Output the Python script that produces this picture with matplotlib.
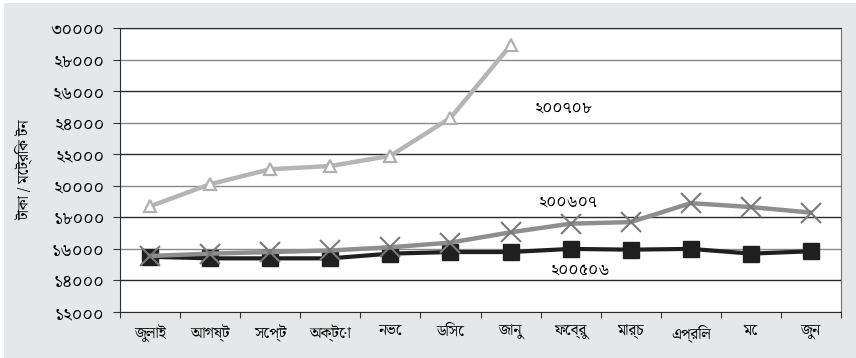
import matplotlib
matplotlib.use("Agg")
import matplotlib.pyplot as plt

# monthly price, taka per metric ton
months = ["জুলাই", "আগষ্ট", "সেপ্ট", "অক্টো", "নভে", "ডিসে",
          "জানু", "ফেব্রু", "মার্চ", "এপ্রিল", "মে", "জুন"]
price_0708 = [18700, 20100, 21050, 21250, 21900, 24300, 28900]
price_0607 = [15550, 15700, 15800, 15900, 16100, 16400, 17050,
              17600, 17700, 18900, 18650, 18300]
price_0506 = [15500, 15400, 15400, 15400, 15700, 15800, 15800,
              16000, 15950, 16000, 15700, 15850]
yticks = list(range(12000, 30001, 2000))
bn_digits = str.maketrans("0123456789", "০১২৩৪৫৬৭৮৯")

plt.rcParams["font.family"] = ["Noto Serif Bengali", "DejaVu Sans"]

fig = plt.figure(figsize=(8.56, 3.58), dpi=100, facecolor="white")
bg = fig.add_axes([4 / 856, 0, 852 / 856, 355 / 358], zorder=0)
bg.set_axis_off()
bg.add_patch(plt.Rectangle((0, 0), 1, 1, transform=bg.transAxes,
                           facecolor="#e6e7e8", edgecolor="none"))
ax = fig.add_axes([120 / 856, 46 / 358, 721 / 856, 284 / 358], zorder=1)
ax.set_facecolor("white")

x = list(range(len(months)))
ax.plot(x[:len(price_0708)], price_0708, color="#b5b5b5", lw=3.2,
        marker="^", ms=9, mfc="white", mec="#b0b0b0", mew=1.6, zorder=3)
ax.plot(x, price_0607, color="#8e8e8e", lw=3.2, marker="x", ms=15,
        mec="#7a7a7a", mew=1.5, zorder=4)
ax.plot(x, price_0506, color="#1f1f1f", lw=3.0, marker="s", ms=12,
        mfc="#1f1f1f", mec="#1f1f1f", zorder=3)

# grid lines alternate dark / grey
for i, v in enumerate(yticks):
    ax.axhline(v, color="#2b2b2b" if i % 2 else "#8a8a8a", lw=1.0, zorder=1)

ax.set_xlim(-0.5, len(months) - 0.5)
ax.set_ylim(12000, 30000)
ax.set_yticks(yticks)
ax.set_yticklabels([str(v).translate(bn_digits) for v in yticks], fontsize=12.5)
ax.set_xticks([i - 0.5 for i in range(len(months) + 1)])
ax.set_xticklabels([])
ax.set_xticks(x, minor=True)
ax.set_xticklabels(months, minor=True, fontsize=11)
ax.tick_params(axis="x", which="minor", length=0, pad=9)
ax.tick_params(axis="x", which="major", length=4, color="#333333")
ax.tick_params(axis="y", length=5, color="#333333", pad=6)

for s in ["left", "bottom", "top"]:
    ax.spines[s].set_color("#2b2b2b")
ax.spines["right"].set_color("#707070")

ax.set_ylabel("টাকা / মেট্রিক টন", fontsize=11, labelpad=13)

ax.text(6.89, 24900, "২০০৭০৮", fontsize=12, ha="center", va="center")
ax.text(6.97, 18950, "২০০৬০৭", fontsize=12, ha="center", va="center")
ax.text(7.16, 14650, "২০০৫০৬", fontsize=12, ha="center", va="center")

fig.savefig("out.png", dpi=100)
